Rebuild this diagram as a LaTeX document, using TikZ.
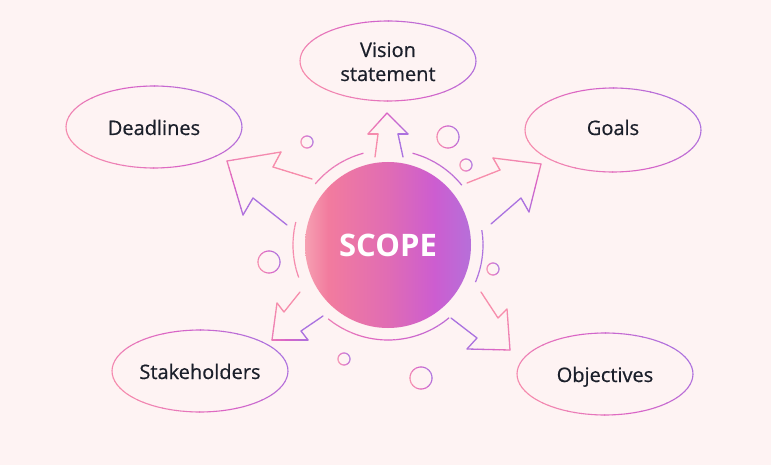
\documentclass[tikz,border=0pt]{standalone}
\usepackage{fontspec}
\setmainfont{Open Sans}
\newfontfamily\labelfont{Open Sans}[FakeBold=0.6]
\usetikzlibrary{calc,shapes.geometric}
\definecolor{bg}{HTML}{FEF3F3}
\definecolor{gpink}{HTML}{F78DAC}
\definecolor{gmag}{HTML}{DA63C6}
\definecolor{gpurple}{HTML}{AA72E0}
\definecolor{txt}{HTML}{1B1F2A}
\definecolor{c0}{HTML}{F6A0B2}
\definecolor{c1}{HTML}{F27B9E}
\definecolor{c2}{HTML}{E06CB4}
\definecolor{c3}{HTML}{CC5DD0}
\definecolor{c4}{HTML}{B66FD9}
\pgfdeclarehorizontalshading{scopegrad}{100bp}{color(0bp)=(c0); color(25bp)=(c0); color(32bp)=(c1); color(50bp)=(c2); color(64bp)=(c3); color(75bp)=(c4); color(100bp)=(c4)}
\newcommand\setgcol[1]{%
  \pgfmathsetmacro\gp{max(0,min(100,#1))}%
  \ifdim\gp pt<50pt
    \pgfmathsetmacro\gq{2*\gp}\colorlet{cur}{gmag!\gq!gpink}%
  \else
    \pgfmathsetmacro\gq{2*\gp-100}\colorlet{cur}{gpurple!\gq!gmag}%
  \fi}
% gradient ellipse outline around a point
\newcommand\gellipse[4]{%
  \foreach \a in {0,5,...,355}{%
    \setgcol{50+45*cos(\a+2.5)-15*sin(\a+2.5)}%
    \draw[cur, line width=1.1pt] (#1) ++(\a:#3 and #4) arc[start angle=\a, end angle=\a+5.5, x radius=#3, y radius=#4];}}
% gradient arc of the ring
\newcommand\gring[2]{%
  \foreach \i in {0,...,19}{%
    \pgfmathsetmacro\aa{#1+(#2-#1)*\i/20}%
    \pgfmathsetmacro\bb{#1+(#2-#1)*(\i+1)/20}%
    \setgcol{50+48*cos((\aa+\bb)/2)}%
    \draw[cur, line width=1.2pt] (scope.center) ++(\aa:95) arc[start angle=\aa, end angle=\bb, radius=95];}}
% gradient straight segment
\newcommand\gseg[6]{%
  \foreach \i in {0,...,7}{%
    \pgfmathsetmacro\xa{#1+(#3-#1)*\i/8}\pgfmathsetmacro\ya{#2+(#4-#2)*\i/8}%
    \pgfmathsetmacro\xb{#1+(#3-#1)*(\i+1)/8}\pgfmathsetmacro\yb{#2+(#4-#2)*(\i+1)/8}%
    \setgcol{100*(#5+(#6-#5)*(\i+0.5)/8)}%
    \draw[cur, line width=1.3pt, line cap=round] (\xa,\ya) -- (\xb,\yb);}}
\tikzset{
  label/.style={font=\labelfont\fontsize{20}{20}\selectfont, text=txt, anchor=base, inner sep=0pt},
  bubble/.style={ellipse, minimum width=176pt, minimum height=82pt, inner sep=0pt}
}
\begin{document}
\begin{tikzpicture}[x=1pt,y=-1pt]
\fill[bg] (0,0) rectangle (771,465);
\useasboundingbox (0,0) rectangle (771,465);
% central circle
\node[circle, minimum size=166pt, inner sep=0pt] (scope) at (388,245) {};
\shade[shading=scopegrad] (scope.center) circle[radius=83];
\node[font=\bfseries\fontsize{31}{31}\selectfont, text=white, inner sep=0pt] (scopetext) at (388,245) {SCOPE};
% ellipses
\node[bubble] (vision) at (388,61) {};
\node[bubble] (deadlines) at (154,127) {};
\node[bubble] (goals) at (613,130) {};
\node[bubble] (stake) at (200,371) {};
\node[bubble] (obj) at (605,374) {};
\gellipse{vision.center}{0}{88}{40}
\gellipse{deadlines.center}{0}{88}{41}
\gellipse{goals.center}{0}{88}{42}
\gellipse{stake.center}{0}{88}{41}
\gellipse{obj.center}{0}{88}{41}
\node[label] (t1) at (388,57) {Vision};
\node[label] (t2) at (388,81) {statement};
\node[label] (t3) at (154,135) {Deadlines};
\node[label] (t4) at (613,135) {Goals};
\node[label] (t5) at (200,379) {Stakeholders};
\node[label] (t6) at (605,382) {Objectives};
% ring arcs
\gring{-140}{-105}
\gring{-75}{-39}
\gring{160}{194}
\gring{-9}{23}
\gring{50}{129}
% small circles
\coordinate (s1) at (307,142);
\coordinate (s2) at (448,137);
\coordinate (s3) at (466,165);
\coordinate (s4) at (269,262);
\coordinate (s5) at (493,269);
\coordinate (s6) at (344,359);
\coordinate (s7) at (421,378);
\gellipse{s1}{0}{6}{6}
\gellipse{s2}{0}{11}{11}
\gellipse{s3}{0}{6}{6}
\gellipse{s4}{0}{11}{11}
\gellipse{s5}{0}{6}{6}
\gellipse{s6}{0}{6}{6}
\gellipse{s7}{0}{11}{11}
% up arrow
\gseg{375}{157}{378}{134}{0}{0}
\gseg{378}{134}{368}{134}{0}{0.05}
\gseg{368}{134}{387}{113}{0.05}{0.5}
\gseg{387}{113}{408}{134}{0.5}{0.95}
\gseg{408}{134}{398}{134}{0.95}{1}
\gseg{398}{134}{403}{157}{1}{1}
% top-left arrow
\gseg{312}{179}{273}{167}{0}{0}
\gseg{273}{167}{281}{152}{0}{0}
\gseg{281}{152}{227}{161}{0}{0.15}
\gseg{227}{161}{243}{215}{0.15}{0.95}
\gseg{243}{215}{253}{198}{0.95}{1}
\gseg{253}{198}{287}{225}{1}{1}
% top-right arrow
\gseg{467}{183}{500}{170}{0}{0}
\gseg{500}{170}{493}{158}{0}{0}
\gseg{493}{158}{541}{164}{0}{0.15}
\gseg{541}{164}{529}{212}{0.15}{0.95}
\gseg{529}{212}{521}{198}{0.95}{1}
\gseg{521}{198}{491}{224}{1}{1}
% bottom-left arrow
\gseg{300}{292}{284}{312}{0}{0}
\gseg{284}{312}{277}{303}{0}{0}
\gseg{277}{303}{272}{340}{0}{0.2}
\gseg{272}{340}{308}{340}{0.2}{0.95}
\gseg{308}{340}{301}{331}{0.95}{1}
\gseg{301}{331}{323}{316}{1}{1}
% bottom-right arrow
\gseg{481}{292}{498}{318}{0}{0}
\gseg{498}{318}{507}{309}{0}{0}
\gseg{507}{309}{510}{350}{0}{0.2}
\gseg{510}{350}{467}{349}{0.2}{0.95}
\gseg{467}{349}{477}{338}{0.95}{1}
\gseg{477}{338}{451}{318}{1}{1}
\end{tikzpicture}
\end{document}
